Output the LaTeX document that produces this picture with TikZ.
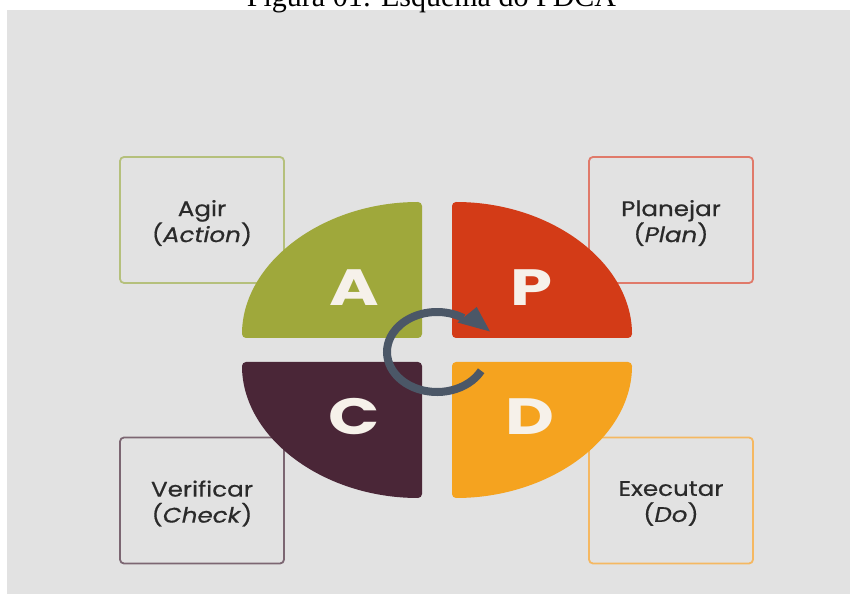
\documentclass[tikz,border=0pt]{standalone}
\usepackage{fontspec}
\setmainfont{Liberation Serif}
\newfontfamily\boxfont[FakeStretch=1.17,FakeBold=0.6]{Poppins}
\newfontfamily\letterfont[FakeStretch=1.32]{Poppins}
\usetikzlibrary{calc}
\definecolor{bgc}{HTML}{E2E2E2}
\definecolor{colA}{HTML}{9FA83B}
\definecolor{colP}{HTML}{D33B17}
\definecolor{colC}{HTML}{4A2637}
\definecolor{colD}{HTML}{F5A31F}
\definecolor{ringc}{HTML}{4B5767}
\definecolor{bordA}{HTML}{B5C07C}
\definecolor{bordP}{HTML}{E07A6A}
\definecolor{bordC}{HTML}{7C6672}
\definecolor{bordD}{HTML}{F5B862}
\definecolor{txtc}{HTML}{2A2A2A}
\definecolor{lettc}{HTML}{F6F1EA}
\tikzset{
  lbox/.style={draw, line width=1.8pt, rounded corners=4pt, minimum width=164pt,
    minimum height=126pt, align=center, text=txtc,
    font=\boxfont\fontsize{21}{26}\selectfont},
  boxlabel/.style={align=center, text=txtc, font=\boxfont\fontsize{21}{26}\selectfont},
  sector/.style={rounded corners=4pt},
  letter/.style={font=\letterfont\bfseries\fontsize{51}{51}\selectfont, text=lettc, inner sep=0pt},
  ringline/.style={draw=ringc, line width=8pt}
}
\begin{document}
\begin{tikzpicture}[x=1pt,y=1pt]
\useasboundingbox (0,0) rectangle (850,594);
\fill[bgc] (7,0) rectangle (850,584);
\node[anchor=base, font=\fontsize{30}{30}\selectfont, inner sep=0pt] (title) at (431.5,587) {Figura 01: Esquema do PDCA};

% boxes
\node[lbox, draw=bordA] (agir) at (202,374) {};
\node[lbox, draw=bordP] (plan) at (671,374) {};
\node[lbox, draw=bordC] (verif) at (202,93.5) {};
\node[lbox, draw=bordD] (exec) at (671,93.5) {};
\node[boxlabel] (tagir) at ($(agir)+(0,-3)$) {Agir\\(\textit{Action})};
\node[boxlabel] (tplan) at ($(plan)+(0,-3)$) {Planejar\\(\textit{Plan})};
\node[boxlabel] (tverif) at ($(verif)+(0,-3)$) {Verificar\\(\textit{Check})};
\node[boxlabel] (texec) at ($(exec)+(0,-3)$) {Executar\\(\textit{Do})};

% sectors
\fill[colA, sector] (422,256) -- (242,256) arc[start angle=180, end angle=90, x radius=180, y radius=136] -- cycle;
\fill[colP, sector] (452,256) -- (452,392) arc[start angle=90, end angle=0, x radius=180, y radius=136] -- cycle;
\fill[colC, sector] (422,232) -- (422,96) arc[start angle=270, end angle=180, x radius=180, y radius=136] -- cycle;
\fill[colD, sector] (452,232) -- (632,232) arc[start angle=0, end angle=-90, x radius=180, y radius=136] -- cycle;

% letters
\node[letter] (la) at (354,306.5) {A};
\node[letter] (lp) at (531.7,306.5) {P};
\node[letter] (lc) at (354,177.3) {C};
\node[letter] (ld) at (530,177.3) {D};

% cycle arrow
\coordinate (ac) at (437,242);
\draw[ringline] ($(ac)+(-28:50 and 40)$) arc[start angle=-28, end angle=-302, x radius=50, y radius=40];
\fill[ringc] (476.7,287) -- (490,262.5) -- (457.5,271.5) -- cycle;
\end{tikzpicture}
\end{document}
